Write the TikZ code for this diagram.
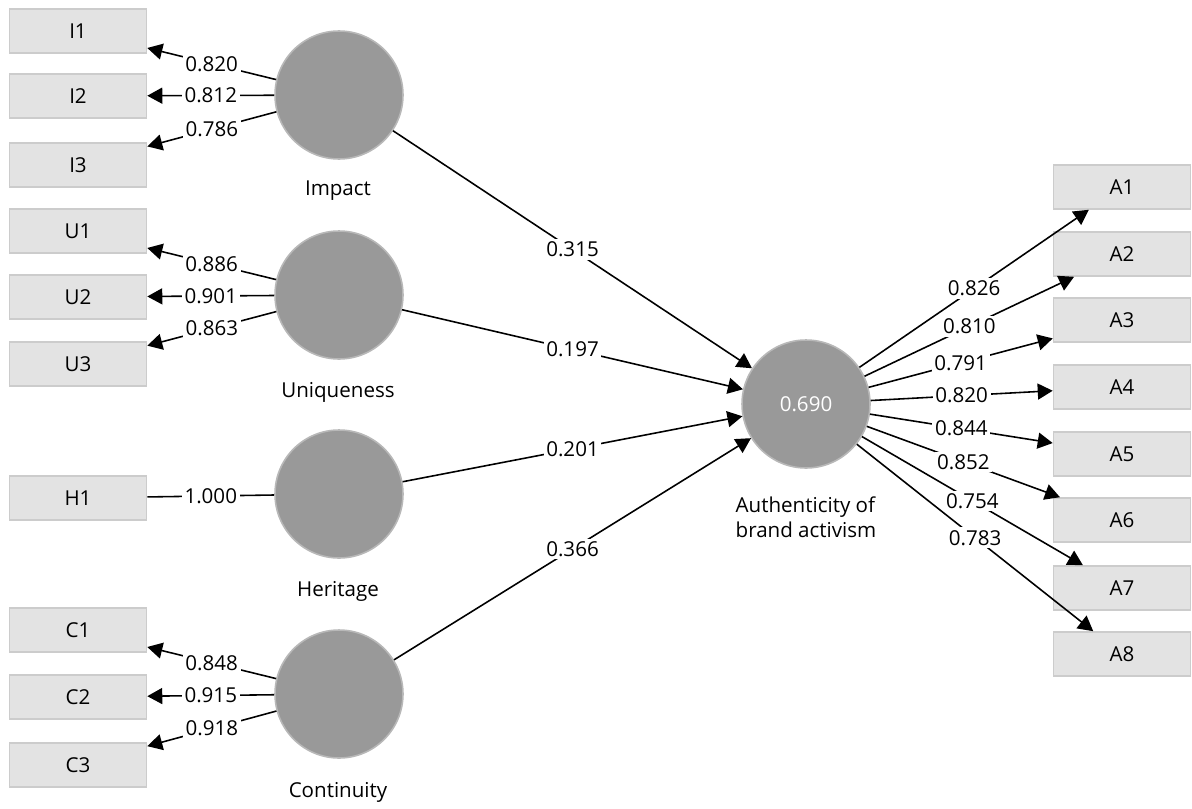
\documentclass[tikz,border=0pt]{standalone}
\usepackage{fontspec}
\setmainfont{Open Sans}
\usetikzlibrary{arrows.meta}

\begin{document}
\begin{tikzpicture}[x=0.02cm, y=-0.02cm, font=\fontsize{11.7}{14.5}\selectfont,
		>={Triangle[length=0.3cm, width=0.32cm]}, line width=0.9pt]
	\tikzstyle{item}=[draw=black!20, fill=black!11, minimum width=2.74cm, minimum height=0.88cm, inner sep=0pt]
	\tikzstyle{lv}=[circle, draw=black!28, fill=black!40, minimum size=2.56cm, inner sep=0pt]
	\tikzstyle{coef}=[midway, fill=white, inner sep=1.5pt]
	\useasboundingbox (0,0) rectangle (1192,808);
	% constructs
	\node[lv] (imp) at (339, 95) {};
	\node[lv] (uni) at (339, 295) {};
	\node[lv] (her) at (339, 494) {};
	\node[lv] (con) at (339, 694) {};
	\node[lv, text=white] (aut) at (806, 404) {0.690};
	\node (impL) at (338, 191) {Impact};
	\node (uniL) at (338, 392) {Uniqueness};
	\node (herL) at (338, 591) {Heritage};
	\node (conL) at (338, 792) {Continuity};
	\node[align=left] (autL) at (806, 517) {Authenticity of\\brand activism};
	% indicators
	\node[item] (I1) at (78, 31) {I1};
	\node[item] (I2) at (78, 96) {I2};
	\node[item] (I3) at (78, 165) {I3};
	\node[item] (U1) at (78, 231) {U1};
	\node[item] (U2) at (78, 297) {U2};
	\node[item] (U3) at (78, 364) {U3};
	\node[item] (H1) at (78, 498) {H1};
	\node[item] (C1) at (78, 630) {C1};
	\node[item] (C2) at (78, 697) {C2};
	\node[item] (C3) at (78, 765) {C3};
	\node[item] (A1) at (1122, 187) {A1};
	\node[item] (A2) at (1122, 254) {A2};
	\node[item] (A3) at (1122, 320) {A3};
	\node[item] (A4) at (1122, 387) {A4};
	\node[item] (A5) at (1122, 454) {A5};
	\node[item] (A6) at (1122, 520) {A6};
	\node[item] (A7) at (1122, 588) {A7};
	\node[item] (A8) at (1122, 654) {A8};
	% loadings
	\draw [->] (imp) -- (I1) node[coef] {0.820};
	\draw [->] (imp) -- (I2) node[coef] {0.812};
	\draw [->] (imp) -- (I3) node[coef] {0.786};
	\draw [->] (uni) -- (U1) node[coef] {0.886};
	\draw [->] (uni) -- (U2) node[coef] {0.901};
	\draw [->] (uni) -- (U3) node[coef] {0.863};
	\draw (her) -- (H1) node[coef] {1.000};
	\draw [->] (con) -- (C1) node[coef] {0.848};
	\draw [->] (con) -- (C2) node[coef] {0.915};
	\draw [->] (con) -- (C3) node[coef] {0.918};
	\draw [->] (aut) -- (A1) node[coef] {0.826};
	\draw [->] (aut) -- (A2) node[coef] {0.810};
	\draw [->] (aut) -- (A3) node[coef] {0.791};
	\draw [->] (aut) -- (A4) node[coef] {0.820};
	\draw [->] (aut) -- (A5) node[coef] {0.844};
	\draw [->] (aut) -- (A6) node[coef] {0.852};
	\draw [->] (aut) -- (A7) node[coef] {0.754};
	\draw [->] (aut) -- (A8) node[coef] {0.783};
	% paths
	\draw [->] (imp) -- (aut) node[coef] {0.315};
	\draw [->] (uni) -- (aut) node[coef] {0.197};
	\draw [->] (her) -- (aut) node[coef] {0.201};
	\draw [->] (con) -- (aut) node[coef] {0.366};
\end{tikzpicture}
\end{document}
